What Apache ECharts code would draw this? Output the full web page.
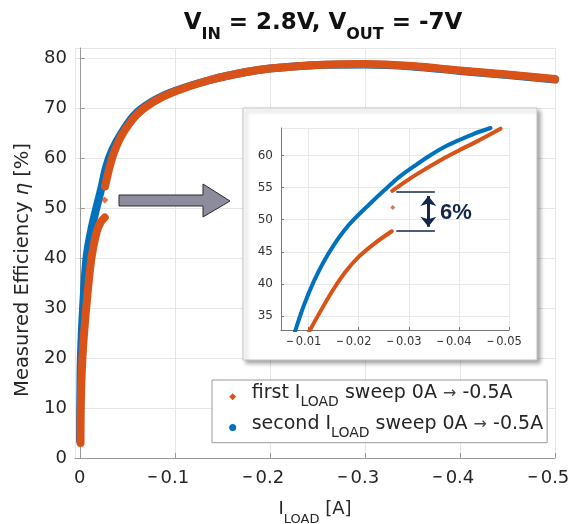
<!DOCTYPE html>
<html>
<head>
<meta charset="utf-8">
<script src="https://cdn.jsdelivr.net/npm/echarts@6/dist/echarts.min.js"></script>
<style>
  html, body { margin: 0; padding: 0; background: #fff; }
  #chart { width: 575px; height: 524px; }
</style>
</head>
<body>
<div id="chart"></div>
<script>
  // main plot, first sweep (orange): below and above the jump
  const mainFirstLowI = [-0.0008, -0.0010, -0.0028, -0.0068, -0.0123, -0.0175, -0.0215, -0.0263];
  const mainFirstLowEff = [3.0, 10.0, 20.0, 30.0, 40.0, 45.0, 47.0, 48.1];
  const mainFirstJumpI = [-0.0263];
  const mainFirstJumpEff = [51.6];
  const mainFirstHighI = [-0.0266, -0.0316, -0.0368, -0.0456, -0.0597, -0.0772, -0.100, -0.137, -0.175, -0.200, -0.250, -0.300, -0.350, -0.400, -0.450, -0.500];
  const mainFirstHighEff = [54.3, 58.3, 61.5, 65.0, 68.6, 71.2, 73.3, 75.6, 77.2, 77.9, 78.6, 78.8, 78.4, 77.5, 76.7, 75.8];

  // main plot, second sweep (blue)
  const mainSecondI = [-0.0003, -0.0005, -0.0012, -0.0035, -0.0071, -0.0120, -0.0175, -0.0228, -0.0275, -0.0340, -0.0440, -0.0580, -0.0772, -0.100, -0.137, -0.175, -0.200, -0.250, -0.300, -0.350, -0.400, -0.450, -0.500];
  const mainSecondEff = [3.5, 10.0, 20.0, 30.0, 40.0, 45.5, 50.0, 54.0, 58.0, 61.5, 65.0, 68.7, 71.4, 73.4, 75.6, 77.2, 77.9, 78.6, 78.7, 78.3, 77.4, 76.6, 75.7];

  // zoomed inset
  const insetFirstLowI = [-0.0090, -0.0103, -0.0125, -0.0150, -0.0175, -0.0200, -0.0230, -0.0266];
  const insetFirstLowEff = [30.8, 32.8, 35.9, 39.2, 42.0, 44.2, 46.2, 48.2];
  const insetFirstJumpI = [-0.0268];
  const insetFirstJumpEff = [51.9];
  const insetFirstHighI = [-0.0267, -0.0300, -0.0333, -0.0366, -0.0400, -0.0433, -0.0483];
  const insetFirstHighEff = [54.5, 56.3, 57.9, 59.4, 60.8, 62.1, 64.2];
  const insetSecondI = [-0.0060, -0.0074, -0.0090, -0.0110, -0.0130, -0.0150, -0.0170, -0.0190, -0.0220, -0.0250, -0.0280, -0.0310, -0.0340, -0.0370, -0.0400, -0.0430, -0.0463];
  const insetSecondEff = [29.2, 32.8, 36.5, 40.3, 43.4, 46.0, 48.2, 50.0, 52.3, 54.5, 56.6, 58.3, 59.9, 61.3, 62.4, 63.4, 64.3];

  // the 6% step marked in the inset
  const stepTop = 54.3;
  const stepBottom = 48.3;
  const stepLineI = [-0.0275, -0.0352];
  const stepArrowI = -0.0339;

  const sweepNames = ['first', 'second'];
  const sweepLabels = {
    first: '{g| }{t|first I}{s|LOAD}{t| sweep 0A }{a|→}{t| -0.5A}',
    second: '{g| }{t|second I}{s|LOAD}{t| sweep 0A }{a|→}{t| -0.5A}',
  };

  const ORANGE = '#D95319';
  const BLUE = '#0072BD';
  const NAVY = '#14264a';
  const FONT = 'DejaVu Sans';
  const TXT = '#262626';

  const pairs = (xs, ys) => xs.map((x, i) => [x, ys[i]]);

  const curve = (name, color, data, axis, width) => ({
    name: name,
    type: 'line',
    xAxisIndex: axis,
    yAxisIndex: axis,
    data: data,
    showSymbol: false,
    symbol: 'none',
    smooth: 0.35,
    clip: true,
    z: axis === 0 ? 2 : 12,
    lineStyle: { color: color, width: width, cap: 'round', join: 'round' },
    itemStyle: { color: color },
    animation: false,
  });

  const dot = (name, color, data, axis, size) => ({
    name: name,
    type: 'scatter',
    xAxisIndex: axis,
    yAxisIndex: axis,
    data: data,
    symbol: 'diamond',
    symbolSize: size,
    z: axis === 0 ? 3 : 13,
    itemStyle: { color: color },
    animation: false,
  });

  const mainMinus = (v) =>
    v === 0 ? '0' : '{m|−}' + Math.abs(v).toFixed(1) + '{sp| }';
  const insetMinus = (v) => '{m|−}' + Math.abs(v).toFixed(2) + '{sp| }';

  const chart = echarts.init(document.getElementById('chart'));

  const config = {
    backgroundColor: '#fff',
    animation: false,
    textStyle: { fontFamily: FONT },
    title: {
      text: '{b|V}{s|IN}{b| = 2.8V, V}{s|OUT}{b| = -7V}',
      left: 318,
      top: 4,
      textAlign: 'center',
      textStyle: {
        fontFamily: FONT,
        lineHeight: 28,
        rich: {
          b: { fontFamily: FONT, fontSize: 23, fontWeight: 'bold', color: '#111', lineHeight: 28 },
          s: { fontFamily: FONT, fontSize: 16, fontWeight: 'bold', color: '#111', lineHeight: 28, padding: [24, 0, 0, 0] },
        },
      },
    },
    legend: {
      data: [
        { name: sweepNames[0], icon: 'diamond' },
        { name: sweepNames[1], icon: 'circle' },
      ],
      orient: 'vertical',
      left: 212,
      top: 380,
      padding: [3.8, 4, 2.2, 17.2],
      itemGap: 4.7,
      itemWidth: 7,
      itemHeight: 7,
      backgroundColor: '#fff',
      borderColor: '#999',
      borderWidth: 1,
      borderRadius: 0,
      z: 20,
      selectedMode: false,
      formatter: (name) => sweepLabels[name],
      textStyle: {
        fontFamily: FONT,
        fontSize: 19,
        color: TXT,
        lineHeight: 26,
        rich: {
          g: { width: 10.5, lineHeight: 26, verticalAlign: 'top' },
          t: { fontFamily: FONT, fontSize: 19, color: TXT, lineHeight: 26, verticalAlign: 'top' },
          s: { fontFamily: FONT, fontSize: 14, color: TXT, lineHeight: 26, verticalAlign: 'bottom' },
          a: { fontFamily: FONT, fontSize: 16, color: '#444', lineHeight: 26, verticalAlign: 'top', padding: [2, 0, 0, 0] },
        },
      },
    },
    grid: [
      { left: 75, top: 48, right: 20, bottom: 66, outerBoundsMode: 'none', containLabel: false },
      { left: 281, top: 128, right: 66, bottom: 194, outerBoundsMode: 'none', containLabel: false },
    ],
    xAxis: [
      {
        type: 'value',
        gridIndex: 0,
        inverse: true,
        min: -0.5,
        max: 0.005,
        interval: 0.1,
        name: 'I{s|LOAD} [A]',
        nameLocation: 'middle',
        nameGap: 34,
        nameTextStyle: {
          fontFamily: FONT,
          fontSize: 18,
          color: TXT,
          lineHeight: 22,
          rich: {
            s: { fontFamily: FONT, fontSize: 13, color: TXT, lineHeight: 22, padding: [21, 0, 0, 0] },
          },
        },
        axisLine: { show: true, lineStyle: { color: '#999', width: 1 } },
        axisTick: { show: true, inside: true, length: 5, lineStyle: { color: '#999' } },
        splitLine: { show: true, lineStyle: { color: '#e6e6e6' } },
        axisLabel: {
          showMaxLabel: false,
          margin: 11,
          fontFamily: FONT,
          fontSize: 18,
          color: TXT,
          formatter: mainMinus,
          rich: {
            m: { fontFamily: FONT, fontSize: 13, fontWeight: 'bold', color: TXT, padding: [0, 2.4, 0, 0] },
            sp: { width: 13.3 },
          },
        },
      },
      {
        type: 'value',
        gridIndex: 1,
        inverse: true,
        min: -0.05,
        max: -0.0045,
        interval: 0.01,
        z: 11,
        axisLine: { show: true, lineStyle: { color: '#777', width: 1 } },
        axisTick: { show: true, inside: true, length: 3, lineStyle: { color: '#777' } },
        splitLine: { show: true, lineStyle: { color: '#e8e8e8' } },
        axisLabel: {
          showMaxLabel: false,
          margin: 6,
          fontFamily: FONT,
          fontSize: 11.5,
          color: '#333',
          formatter: insetMinus,
          rich: {
            m: { fontFamily: FONT, fontSize: 9, fontWeight: 'bold', color: '#333', padding: [0, 2, 0, 0] },
            sp: { width: 9.6 },
          },
        },
      },
    ],
    yAxis: [
      {
        type: 'value',
        gridIndex: 0,
        min: 0,
        max: 82,
        interval: 10,
        name: 'Measured Efficiency {i|η} [%]',
        nameLocation: 'middle',
        nameGap: 40,
        nameTextStyle: {
          fontFamily: FONT,
          fontSize: 19.5,
          color: TXT,
          padding: [0, 34, 0, 0],
          rich: {
            i: { fontFamily: FONT, fontSize: 19.5, fontStyle: 'italic', color: TXT },
          },
        },
        axisLine: { show: true, lineStyle: { color: '#999', width: 1 } },
        axisTick: { show: true, inside: true, length: 5, lineStyle: { color: '#999' } },
        splitLine: { show: true, lineStyle: { color: '#e6e6e6' } },
        axisLabel: {
          showMaxLabel: false,
          margin: 8,
          fontFamily: FONT,
          fontSize: 18,
          color: TXT,
        },
      },
      {
        type: 'value',
        gridIndex: 1,
        min: 32.8,
        max: 64.3,
        splitNumber: 6,
        z: 11,
        axisLine: { show: true, lineStyle: { color: '#777', width: 1 } },
        axisTick: { show: true, inside: true, length: 3, lineStyle: { color: '#777' } },
        splitLine: { show: true, lineStyle: { color: '#e8e8e8' } },
        axisLabel: {
          showMinLabel: false,
          showMaxLabel: false,
          margin: 8,
          fontFamily: FONT,
          fontSize: 12,
          color: '#333',
        },
      },
    ],
    graphic: [
      {
        // inset frame
        type: 'rect',
        z: 10,
        shape: { x: 243, y: 108, width: 294, height: 252 },
        style: {
          fill: '#fff',
          stroke: '#c4c4c4',
          lineWidth: 1,
          shadowBlur: 4,
          shadowOffsetX: 3,
          shadowOffsetY: 3,
          shadowColor: 'rgba(0,0,0,0.35)',
        },
      },
      {
        // arrow pointing at the inset
        type: 'polygon',
        z: 10,
        shape: {
          points: [[119, 195], [203, 195], [203, 184], [230, 201], [203, 217], [203, 206], [119, 206]],
        },
        style: { fill: '#8c8c9c', stroke: '#2b2b33', lineWidth: 1 },
      },
      {
        type: 'text',
        z: 14,
        left: 440,
        top: 202,
        style: {
          text: '6%',
          font: 'bold 22px "Liberation Sans"',
          fill: NAVY,
        },
      },
    ],
    series: [
      curve(sweepNames[1], BLUE, pairs(mainSecondI, mainSecondEff), 0, 8),
      curve(sweepNames[0], ORANGE, pairs(mainFirstLowI, mainFirstLowEff), 0, 8),
      curve(sweepNames[0], ORANGE, pairs(mainFirstHighI, mainFirstHighEff), 0, 8),
      dot(sweepNames[0], ORANGE, pairs(mainFirstJumpI, mainFirstJumpEff), 0, 7),

      curve(sweepNames[1], BLUE, pairs(insetSecondI, insetSecondEff), 1, 4),
      Object.assign(curve(sweepNames[0], ORANGE, pairs(insetFirstLowI, insetFirstLowEff), 1, 4), {
        markLine: {
          silent: true,
          z: 14,
          symbol: 'none',
          label: { show: false },
          lineStyle: { color: NAVY, width: 1.5, type: 'solid' },
          data: [
            [{ coord: [stepLineI[0], stepTop] }, { coord: [stepLineI[1], stepTop] }],
            [{ coord: [stepLineI[0], stepBottom] }, { coord: [stepLineI[1], stepBottom] }],
            [
              { coord: [stepArrowI, stepTop - 0.6], symbol: 'arrow', symbolSize: [12, 10] },
              { coord: [stepArrowI, stepBottom + 0.6], symbol: 'arrow', symbolSize: [12, 10], lineStyle: { width: 3 } },
            ],
          ],
        },
      }),
      curve(sweepNames[0], ORANGE, pairs(insetFirstHighI, insetFirstHighEff), 1, 4),
      dot(sweepNames[0], ORANGE, pairs(insetFirstJumpI, insetFirstJumpEff), 1, 5),
    ],
  };

  chart.setOption(config);
</script>
</body>
</html>
